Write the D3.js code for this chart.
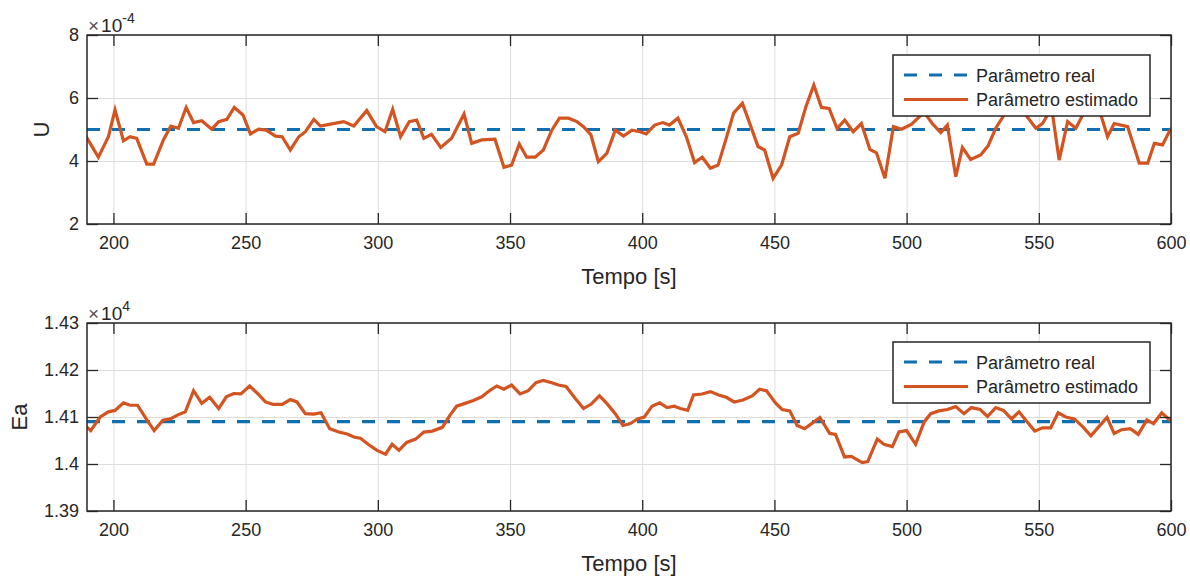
<!DOCTYPE html>
<html>
<head>
<meta charset="utf-8">
<script src="https://cdn.jsdelivr.net/npm/d3@7"></script>
<style>
  body { margin: 0; background: #fff; }
  svg text { font-family: "Liberation Sans", Arial, Helvetica, sans-serif; fill: #262626; }
</style>
</head>
<body>
<svg id="chart"></svg>
<script>
// U (x 1e-4) estimated vs time
const tU = [189.3,194.3,198.1,200.6,203.8,206.3,208.8,212.6,215.2,218.9,221.7,224.6,227.5,230.3,233.4,237.2,239.8,242.9,245.7,249.0,
  251.8,254.9,257.8,261.3,263.8,266.9,270.1,272.6,275.8,278.3,282.1,287.1,290.9,295.8,299.5,302.7,305.6,308.6,311.9,314.7,
  317.4,320.3,323.8,327.9,332.6,335.5,339.3,344.3,347.7,350.6,353.5,356.3,359.5,362.6,365.8,368.7,372.1,375.3,377.8,380.6,
  383.4,386.6,389.8,392.9,396.1,399.2,401.5,404.7,407.8,410.3,413.5,416.7,419.8,422.7,425.8,428.7,431.6,434.6,437.9,440.9,
  443.8,446.3,449.5,452.7,455.8,459.0,461.9,464.9,467.8,470.7,473.7,476.6,479.8,482.9,486.1,488.6,491.8,495.0,498.1,501.9,
  506.6,509.7,512.9,515.4,518.6,521.1,524.2,528.0,530.8,533.7,536.9,540.5,545.1,548.9,551.4,553.3,555.0,557.7,560.9,564.0,
  566.6,569.7,573.5,576.0,578.5,583.6,588.0,591.2,593.7,596.8,600]
const uEst = [4.83,4.12,4.77,5.62,4.64,4.77,4.72,3.90,3.90,4.67,5.11,5.04,5.70,5.22,5.28,5.01,5.25,5.32,5.70,5.46,
  4.86,5.01,4.98,4.79,4.77,4.35,4.77,4.93,5.32,5.11,5.17,5.25,5.11,5.60,5.09,4.93,5.64,4.77,5.25,5.30,
  4.72,4.85,4.43,4.72,5.49,4.56,4.67,4.69,3.80,3.87,4.54,4.12,4.12,4.35,4.98,5.36,5.36,5.25,5.09,4.83,
  3.98,4.24,4.98,4.79,4.98,4.93,4.86,5.14,5.22,5.14,5.36,4.77,3.95,4.12,3.77,3.87,4.67,5.53,5.83,5.14,
  4.46,4.35,3.45,3.87,4.77,4.88,5.72,6.41,5.70,5.67,5.03,5.30,4.93,5.19,4.37,4.26,3.45,5.09,5.01,5.17,
  5.55,5.19,4.90,5.14,3.50,4.43,4.05,4.19,4.48,5.04,5.46,5.80,5.46,5.04,5.19,5.46,5.60,4.03,5.25,5.04,
  5.46,5.80,5.46,4.77,5.19,5.09,3.93,3.93,4.56,4.51,5.04]
const uReal = 5

// Ea (x 1e4) estimated vs time
const tEa = [189.3,191.4,195.0,198.1,200.6,203.8,206.3,209.1,212.4,215.4,218.7,221.5,224.2,227.2,230.3,233.4,236.4,239.8,242.7,245.5,
  248.2,251.5,254.5,257.5,260.3,263.8,266.9,269.4,272.6,275.8,278.5,281.8,285.2,288.4,291.2,293.4,296.6,299.7,302.9,305.4,
  308.0,310.9,314.3,317.4,320.6,324.4,327.3,329.8,333.0,336.1,339.3,342.2,345.0,347.7,350.6,353.8,356.9,359.8,362.6,365.8,
  368.3,371.2,374.6,377.8,380.6,383.8,386.6,389.8,392.7,395.5,398.2,400.8,403.7,406.6,409.4,412.1,414.4,417.2,419.4,422.6,
  425.8,428.9,431.8,434.8,438.1,441.6,444.4,447.0,450.4,452.9,455.8,458.6,461.4,464.3,467.2,470.9,473.1,476.5,479.1,483.2,
  485.3,488.9,491.4,494.6,497.1,500.0,503.4,506.6,509.1,512.2,515.4,518.6,521.7,524.5,527.8,530.6,533.7,536.6,539.7,542.5,
  545.7,548.5,551.4,554.5,557.3,560.2,563.4,566.5,569.7,572.8,575.8,578.5,581.3,584.6,587.6,590.9,593.4,596.5,600]
const eaEst = [1.4082,1.4071,1.4100,1.4111,1.4114,1.4130,1.4125,1.4125,1.4096,1.4071,1.4093,1.4096,1.4104,1.4111,1.4156,1.4129,1.4142,1.4118,1.4143,1.4150,
  1.4149,1.4166,1.4150,1.4132,1.4127,1.4127,1.4137,1.4132,1.4107,1.4106,1.4109,1.4075,1.4068,1.4064,1.4057,1.4055,1.4041,1.4029,1.4021,1.4042,
  1.4029,1.4046,1.4053,1.4068,1.4070,1.4078,1.4104,1.4123,1.4129,1.4135,1.4143,1.4156,1.4166,1.4159,1.4168,1.4149,1.4156,1.4173,1.4178,1.4173,
  1.4168,1.4165,1.4140,1.4118,1.4127,1.4145,1.4129,1.4107,1.4082,1.4086,1.4096,1.4100,1.4123,1.4130,1.4120,1.4123,1.4118,1.4114,1.4147,1.4149,
  1.4154,1.4147,1.4142,1.4132,1.4136,1.4145,1.4159,1.4156,1.4130,1.4116,1.4113,1.4082,1.4075,1.4087,1.4099,1.4065,1.4063,1.4015,1.4016,1.4003,
  1.4005,1.4053,1.4042,1.4037,1.4068,1.4071,1.4042,1.4089,1.4107,1.4113,1.4116,1.4122,1.4107,1.4120,1.4116,1.4101,1.4120,1.4114,1.4096,1.4111,
  1.4089,1.4070,1.4077,1.4077,1.4109,1.4100,1.4096,1.4080,1.4060,1.4080,1.4099,1.4065,1.4073,1.4075,1.4063,1.4094,1.4086,1.4109,1.4091]
const eaReal = 1.409

const xTicks = [200, 250, 300, 350, 400, 450, 500, 550, 600]
const uTicks = [2, 4, 6, 8]
const eaTicks = [1.39, 1.40, 1.41, 1.42, 1.43]
const legendLabels = ['Parâmetro real', 'Parâmetro estimado']

const W = 1190, H = 581
const BLUE = '#0f6fb0', ORANGE = '#d35420', INK = '#262626'
const left = 87, right = 1171

const svg = d3.select('#chart').attr('width', W).attr('height', H)
svg.append('rect').attr('width', W).attr('height', H).attr('fill', '#fff')

const x = d3.scaleLinear().domain([190, 600]).range([left, right])

function panel(opts) {
  const { top, bottom, yDomain, yTicks, t, est, real, ylabel, ylabelX, exp, legendTop, id } = opts
  const y = d3.scaleLinear().domain(yDomain).range([bottom, top])
  const g = svg.append('g')
  const pw = right - left

  // grid
  g.append('g').attr('transform', `translate(0,${bottom})`)
    .call(d3.axisBottom(x).tickValues(xTicks).tickSize(-(bottom - top)).tickFormat(''))
    .call(a => a.select('.domain').remove())
    .selectAll('line').attr('stroke', '#dedede').attr('stroke-width', 1)
  g.append('g').attr('transform', `translate(${left},0)`)
    .call(d3.axisLeft(y).tickValues(yTicks).tickSize(-pw).tickFormat(''))
    .call(a => a.select('.domain').remove())
    .selectAll('line').attr('stroke', '#dedede').attr('stroke-width', 1)

  // clip
  svg.append('clipPath').attr('id', id)
    .append('rect').attr('x', left).attr('y', top).attr('width', pw).attr('height', bottom - top)

  const lines = g.append('g').attr('clip-path', `url(#${id})`)
  lines.append('line')
    .attr('x1', x(190)).attr('x2', x(600))
    .attr('y1', y(real)).attr('y2', y(real))
    .attr('stroke', BLUE).attr('stroke-width', 3.2)
    .attr('stroke-dasharray', '13,12')
  const line = d3.line().x((d, i) => x(t[i])).y(d => y(d))
  lines.append('path').datum(est)
    .attr('d', line)
    .attr('fill', 'none')
    .attr('stroke', ORANGE).attr('stroke-width', 3.2)
    .attr('stroke-linejoin', 'miter')

  // axes with inward ticks on all sides
  const tk = 11
  const styleAxis = a => {
    a.select('.domain').remove()
    a.selectAll('line').attr('stroke', INK).attr('stroke-width', 1.3)
    a.selectAll('text').attr('font-size', 18).attr('fill', INK)
      .attr('font-family', '"Liberation Sans", Arial, sans-serif')
  }
  g.append('g').attr('transform', `translate(0,${bottom})`)
    .call(d3.axisBottom(x).tickValues(xTicks).tickSize(-tk).tickPadding(12).tickFormat(d3.format('d')))
    .call(styleAxis)
  g.append('g').attr('transform', `translate(0,${top})`)
    .call(d3.axisTop(x).tickValues(xTicks).tickSize(-tk).tickFormat(''))
    .call(styleAxis)
  g.append('g').attr('transform', `translate(${left},0)`)
    .call(d3.axisLeft(y).tickValues(yTicks).tickSize(-tk).tickPadding(8).tickFormat(d => String(+d.toFixed(2))))
    .call(styleAxis)
  g.append('g').attr('transform', `translate(${right},0)`)
    .call(d3.axisRight(y).tickValues(yTicks).tickSize(-tk).tickFormat(''))
    .call(styleAxis)

  g.append('rect')
    .attr('x', left).attr('y', top).attr('width', pw).attr('height', bottom - top)
    .attr('fill', 'none').attr('stroke', INK).attr('stroke-width', 1.5)

  // labels
  g.append('text')
    .attr('x', (left + right) / 2).attr('y', bottom + 60)
    .attr('text-anchor', 'middle').attr('font-size', 22)
    .text('Tempo [s]')
  g.append('text')
    .attr('transform', `translate(${ylabelX},${(top + bottom) / 2}) rotate(-90)`)
    .attr('text-anchor', 'middle').attr('font-size', 22)
    .text(ylabel)

  const ex = g.append('text').attr('x', left + 1).attr('y', top - 3).attr('font-size', 19)
  ex.append('tspan').attr('fill', '#555').text('×')
  ex.append('tspan').attr('dx', 2).text('10')
  ex.append('tspan').attr('font-size', 14).attr('dy', -9).text(exp)

  // legend
  const lg = g.append('g').attr('transform', `translate(893,${legendTop})`)
  lg.append('rect').attr('width', 257).attr('height', 61)
    .attr('fill', '#fff').attr('stroke', INK).attr('stroke-width', 1.5)
  legendLabels.forEach((lab, i) => {
    const ly = 20 + i * 24.5
    lg.append('line').attr('x1', 11).attr('x2', 75).attr('y1', ly).attr('y2', ly)
      .attr('stroke', i === 0 ? BLUE : ORANGE).attr('stroke-width', 3.2)
      .attr('stroke-dasharray', i === 0 ? '13,12' : null)
    lg.append('text').attr('x', 83).attr('y', ly + 6.5).attr('font-size', 18).text(lab)
  })
}

panel({ id: 'clipU', top: 35, bottom: 224, yDomain: [2, 8], yTicks: uTicks, t: tU, est: uEst, real: uReal,
  ylabel: 'U', ylabelX: 49, exp: '-4', legendTop: 55 })
panel({ id: 'clipEa', top: 323, bottom: 511, yDomain: [1.39, 1.43], yTicks: eaTicks, t: tEa, est: eaEst, real: eaReal,
  ylabel: 'Ea', ylabelX: 27, exp: '4', legendTop: 342 })
</script>
</body>
</html>
